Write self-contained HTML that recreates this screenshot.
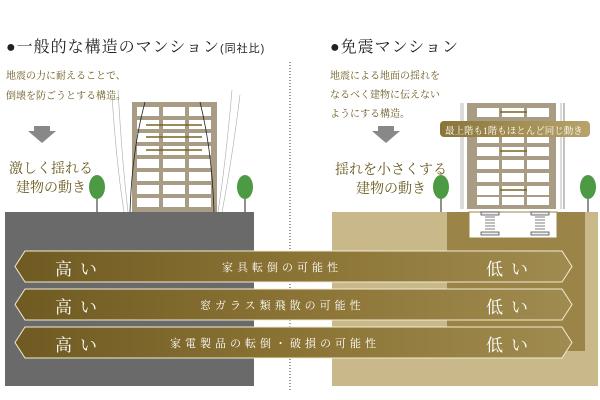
<!DOCTYPE html>
<html><head><meta charset="utf-8"><style>
body{margin:0;width:600px;height:400px;background:#fff;position:relative;overflow:hidden;font-family:"Liberation Serif","Noto Serif CJK SC","Noto Sans CJK JP",serif}
.a{position:absolute;white-space:nowrap}
</style></head><body>
<svg width="600" height="400" style="position:absolute;left:0;top:0">
<defs>
<linearGradient id="g" x1="0" x2="1"><stop offset="0" stop-color="#6f5a22"/><stop offset="0.5" stop-color="#8a7334"/><stop offset="1" stop-color="#a08b50"/></linearGradient>
<linearGradient id="p" x1="0" x2="1"><stop offset="0" stop-color="#8a7539"/><stop offset="1" stop-color="#b8a36a"/></linearGradient>
</defs>
<rect x="5" y="212" width="249" height="174" fill="#6a6a6a"/>
<rect x="332" y="212" width="266" height="174" fill="#c9b98a"/>
<rect x="447" y="212" width="138" height="139" fill="#9b8447"/>
<rect x="469" y="212" width="88" height="26" fill="#fff" stroke="#9b8447"/>
<line x1="290" y1="62" x2="290" y2="392" stroke="#333" stroke-dasharray="1,2"/>
<g>
<path d="M118 90 Q122 160 128 212 M112 95 Q116 160 124 212 M232 90 Q226 160 218 212 M240 95 Q232 160 222 212" fill="none" stroke="#aaa" stroke-width="0.6"/>
<rect x="132" y="102" width="85" height="110" fill="#a99c84"/>
<g fill="#fff">
<rect x="137" y="107" width="22" height="9"/><rect x="163" y="107" width="22" height="9"/><rect x="189" y="107" width="22" height="9"/>
<rect x="137" y="120" width="22" height="9"/><rect x="163" y="120" width="22" height="9"/><rect x="189" y="120" width="22" height="9"/>
<rect x="137" y="133" width="22" height="9"/><rect x="163" y="133" width="22" height="9"/><rect x="189" y="133" width="22" height="9"/>
<rect x="137" y="146" width="22" height="9"/><rect x="163" y="146" width="22" height="9"/><rect x="189" y="146" width="22" height="9"/>
<rect x="137" y="159" width="22" height="9"/><rect x="163" y="159" width="22" height="9"/><rect x="189" y="159" width="22" height="9"/>
<rect x="137" y="172" width="22" height="9"/><rect x="163" y="172" width="22" height="9"/><rect x="189" y="172" width="22" height="9"/>
<rect x="137" y="185" width="22" height="9"/><rect x="163" y="185" width="22" height="9"/><rect x="189" y="185" width="22" height="9"/>
<rect x="137" y="198" width="22" height="9"/><rect x="163" y="198" width="22" height="9"/><rect x="189" y="198" width="22" height="9"/>
</g>
<path d="M145 102 Q132 150 130 212 M200 102 Q212 150 214 212" fill="none" stroke="#222" stroke-width="0.8"/>
<g stroke="#7a6520" stroke-width="1.5">
<line x1="146" y1="125" x2="202" y2="125"/><line x1="146" y1="137" x2="202" y2="137"/><line x1="146" y1="150" x2="202" y2="150"/>
</g>
</g>
<line x1="461" y1="103" x2="461" y2="209" stroke="#888" stroke-width="0.6"/>
<line x1="463" y1="103" x2="463" y2="209" stroke="#888" stroke-width="0.6"/>
<line x1="561" y1="103" x2="561" y2="209" stroke="#888" stroke-width="0.6"/>
<line x1="564" y1="103" x2="564" y2="209" stroke="#333" stroke-width="0.6"/>
<rect x="467" y="103" width="89" height="106" fill="#a99c84"/>
<g fill="#fff">
<rect x="477" y="108" width="22" height="9"/><rect x="502" y="108" width="22" height="9"/><rect x="527" y="108" width="22" height="9"/>
<rect x="477" y="121" width="22" height="9"/><rect x="502" y="121" width="22" height="9"/><rect x="527" y="121" width="22" height="9"/>
<rect x="477" y="134" width="22" height="9"/><rect x="502" y="134" width="22" height="9"/><rect x="527" y="134" width="22" height="9"/>
<rect x="477" y="147" width="22" height="9"/><rect x="502" y="147" width="22" height="9"/><rect x="527" y="147" width="22" height="9"/>
<rect x="477" y="160" width="22" height="9"/><rect x="502" y="160" width="22" height="9"/><rect x="527" y="160" width="22" height="9"/>
<rect x="477" y="173" width="22" height="9"/><rect x="502" y="173" width="22" height="9"/><rect x="527" y="173" width="22" height="9"/>
<rect x="477" y="186" width="22" height="9"/><rect x="502" y="186" width="22" height="9"/><rect x="527" y="186" width="22" height="9"/>
<rect x="477" y="197" width="22" height="8"/><rect x="502" y="197" width="22" height="8"/><rect x="527" y="197" width="22" height="8"/>
</g>
<g stroke="#7a6520" stroke-width="1.5"><line x1="500" y1="112" x2="527" y2="112"/><line x1="500" y1="151" x2="527" y2="151"/><line x1="500" y1="190" x2="527" y2="190"/></g>
<g fill="#eee" stroke="#333" stroke-width="0.7">
<rect x="481" y="212" width="18" height="3"/><rect x="481" y="232" width="18" height="3"/>
<rect x="531" y="212" width="18" height="3"/><rect x="531" y="232" width="18" height="3"/>
</g>
<g stroke="#555" stroke-width="0.8"><path d="M485 217h10M485 220h10M485 223h10M485 226h10M485 229h10M535 217h10M535 220h10M535 223h10M535 226h10M535 229h10"/></g>
<rect x="440" y="121" width="150" height="16" rx="4" fill="url(#p)"/>
<g>
<line x1="97" y1="185" x2="97" y2="212" stroke="#222"/><ellipse cx="97" cy="187" rx="8" ry="12" fill="#4d9a45"/>
<line x1="245" y1="185" x2="245" y2="212" stroke="#222"/><ellipse cx="245" cy="187" rx="8" ry="12" fill="#4d9a45"/>
<line x1="441" y1="185" x2="441" y2="212" stroke="#222"/><ellipse cx="441" cy="187" rx="8" ry="12" fill="#4d9a45"/>
<line x1="588" y1="185" x2="588" y2="212" stroke="#222"/><ellipse cx="588" cy="187" rx="8" ry="12" fill="#4d9a45"/>
</g>
<path d="M34 126h16v5h6l-14 12l-14-12h6z" fill="#888"/>
<path d="M378 126h16v5h6l-14 12l-14-12h6z" fill="#888"/>
<g fill="url(#g)" stroke="#f3ecd0" stroke-width="1">
<path d="M25 251H562L572 266.5L562 282H25L15 266.5Z"/>
<path d="M25 289H562L572 304.5L562 320H25L15 304.5Z"/>
<path d="M25 327H562L572 342.5L562 358H25L15 342.5Z"/>
</g>
</svg>
<div class="a" style="left:6px;top:34px;font-size:16px;color:#222;letter-spacing:1px">●一般的な構造のマンション<span style="font-size:11px;font-family:'Liberation Sans','Noto Sans CJK JP',sans-serif">(同社比)</span></div>
<div class="a" style="left:330px;top:34px;font-size:16px;color:#222;letter-spacing:1px">●免震マンション</div>
<div class="a" style="left:6px;top:67px;font-size:10px;line-height:20px;color:#6a5a1e">地震の力に耐えることで、<br>倒壊を防ごうとする構造。</div>
<div class="a" style="left:330px;top:67px;font-size:10px;line-height:19px;color:#6a5a1e">地震による地面の揺れを<br>なるべく建物に伝えない<br>ようにする構造。</div>
<div class="a" style="left:9px;top:160px;font-size:14px;line-height:19px;color:#6a5a1e;text-align:center">激しく揺れる<br>建物の動き</div>
<div class="a" style="left:335px;top:161px;font-size:14px;line-height:19px;color:#6a5a1e;text-align:center">揺れを小さくする<br>建物の動き</div>
<div class="a" style="left:445px;top:123px;font-size:9.5px;color:#fff">最上階も1階もほとんど同じ動き</div>
<div class="a" style="left:55px;top:255px;font-size:17px;color:#fff;letter-spacing:8px">高い</div>
<div class="a" style="left:55px;top:293px;font-size:17px;color:#fff;letter-spacing:8px">高い</div>
<div class="a" style="left:55px;top:331px;font-size:17px;color:#fff;letter-spacing:8px">高い</div>
<div class="a" style="left:486px;top:255px;font-size:17px;color:#fff;letter-spacing:8px">低い</div>
<div class="a" style="left:486px;top:293px;font-size:17px;color:#fff;letter-spacing:8px">低い</div>
<div class="a" style="left:486px;top:331px;font-size:17px;color:#fff;letter-spacing:8px">低い</div>
<div class="a" style="left:222px;top:259px;font-size:11px;color:#fff;letter-spacing:4px">家具転倒の可能性</div>
<div class="a" style="left:200px;top:297px;font-size:11px;color:#fff;letter-spacing:4px">窓ガラス類飛散の可能性</div>
<div class="a" style="left:170px;top:335px;font-size:11px;color:#fff;letter-spacing:4px">家電製品の転倒・破損の可能性</div>
</body></html>
